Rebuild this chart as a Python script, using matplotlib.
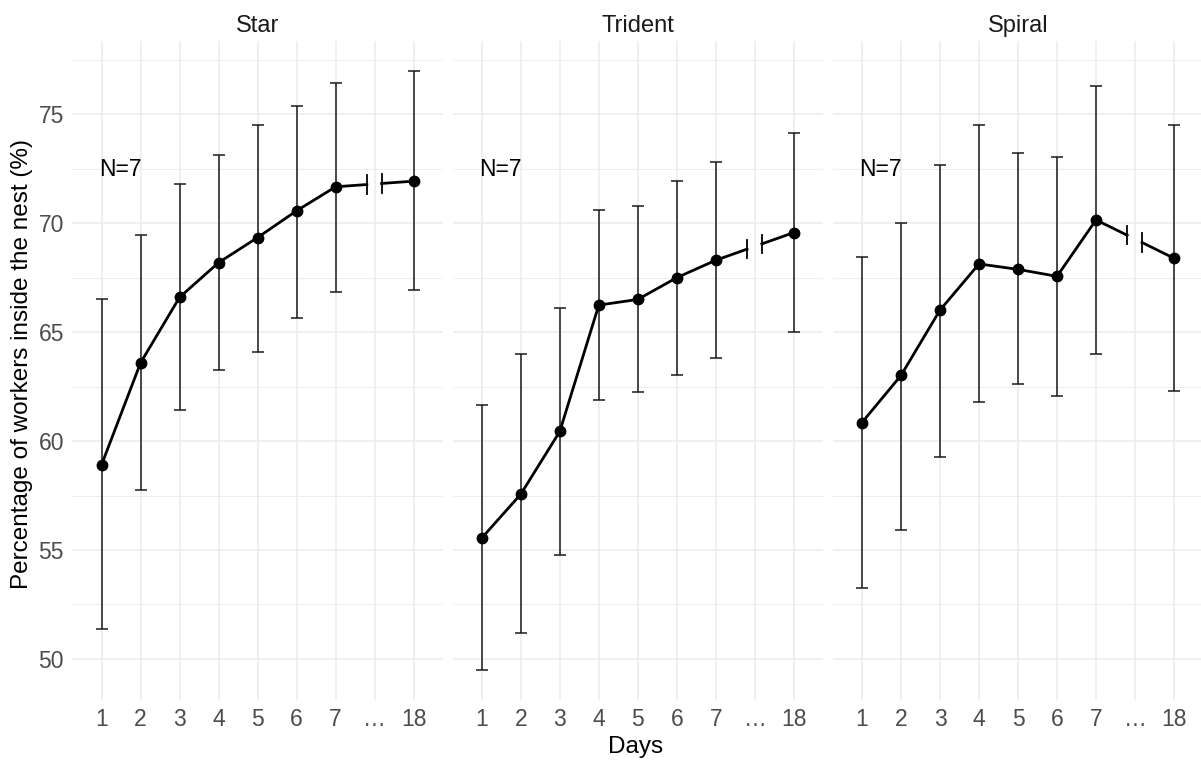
import numpy as np
import matplotlib.pyplot as plt

plt.rcParams['font.family'] = ['Liberation Sans', 'DejaVu Sans']

# x axis: days 1..7, a gap, then day 18
positions = [1, 2, 3, 4, 5, 6, 7, 9]
tick_pos = [1, 2, 3, 4, 5, 6, 7, 8, 9]
tick_labels = ['1', '2', '3', '4', '5', '6', '7', '…', '18']

panels = ['Star', 'Trident', 'Spiral']

star_mean = [58.91, 63.59, 66.60, 68.19, 69.34, 70.57, 71.67, 71.93]
star_lo = [51.37, 57.76, 61.44, 63.27, 64.11, 65.66, 66.84, 66.95]
star_hi = [66.50, 69.46, 71.78, 73.13, 74.49, 75.38, 76.44, 77.00]

trident_mean = [55.55, 57.56, 60.44, 66.24, 66.50, 67.50, 68.30, 69.57]
trident_lo = [49.49, 51.17, 54.77, 61.89, 62.27, 63.04, 63.82, 65.00]
trident_hi = [61.64, 63.99, 66.10, 70.61, 70.78, 71.95, 72.79, 74.13]

spiral_mean = [60.85, 63.01, 66.01, 68.13, 67.88, 67.56, 70.15, 68.39]
spiral_lo = [53.24, 55.93, 59.28, 61.79, 62.62, 62.05, 63.99, 62.28]
spiral_hi = [68.43, 70.00, 72.65, 74.49, 73.23, 73.06, 76.29, 74.49]

means = [star_mean, trident_mean, spiral_mean]
lows = [star_lo, trident_lo, spiral_lo]
highs = [star_hi, trident_hi, spiral_hi]

n_label = 'N=7'

# y range as ggplot: 5% expansion
allv = np.concatenate([np.array(lows).ravel(), np.array(highs).ravel()])
rng = allv.max() - allv.min()
ylim = (allv.min() - 0.05 * rng, allv.max() + 0.05 * rng)

fig = plt.figure(figsize=(12.01, 7.61), dpi=100)
W, H = 1201, 761
left0 = 72.3
pw = 370.6
gap = 9.6
top = 40.7
bottom = 700

grid_col = '#ebebeb'
break_a, break_b = 7.8, 8.18

for i in range(3):
    x0 = left0 + i * (pw + gap)
    ax = fig.add_axes([x0 / W, 1 - bottom / H, pw / W, (bottom - top) / H])
    m = np.array(means[i])
    lo = np.array(lows[i])
    hi = np.array(highs[i])
    pos = np.array(positions)

    ax.set_xlim(0.25, 9.75)
    ax.set_ylim(*ylim)
    for s in ax.spines.values():
        s.set_visible(False)

    # grid
    for yv in np.arange(50, 76, 5):
        ax.axhline(yv, color=grid_col, lw=1.1, zorder=0)
    for yv in np.arange(52.5, 78, 5):
        ax.axhline(yv, color=grid_col, lw=0.6, zorder=0)
    for xv in tick_pos:
        ax.axvline(xv, color=grid_col, lw=1.1, zorder=0)

    # error bars
    ax.errorbar(pos, m, yerr=[m - lo, hi - m], fmt='none', ecolor='#1a1a1a',
                elinewidth=1.1, capsize=4.2, capthick=1.1, zorder=2)

    # line for days 1..7
    ax.plot(pos[:7], m[:7], color='black', lw=2.0, zorder=3,
            solid_capstyle='round', solid_joinstyle='round')
    # broken segment 7 -> 18
    ya = np.interp(break_a, pos[6:], m[6:])
    yb = np.interp(break_b, pos[6:], m[6:])
    ax.plot([pos[6], break_a], [m[6], ya], color='black', lw=2.0, zorder=3)
    ax.plot([break_b, pos[7]], [yb, m[7]], color='black', lw=2.0, zorder=3)
    ax.plot([break_a, break_a], [ya - 0.42, ya + 0.42], color='black', lw=1.3, zorder=3)
    ax.plot([break_b, break_b], [yb - 0.42, yb + 0.42], color='black', lw=1.3, zorder=3)

    ax.plot(pos, m, 'o', color='black', ms=7.5, zorder=4)

    ax.text(1.47, 72.47, n_label, fontsize=16.5, ha='center', va='center', color='black')

    ax.set_xticks(tick_pos)
    ax.set_xticklabels(tick_labels)
    ax.set_yticks([50, 55, 60, 65, 70, 75])
    ax.tick_params(length=0, labelsize=16.5, labelcolor='#4d4d4d', pad=6)
    if i > 0:
        ax.set_yticklabels([])
    ax.set_title(panels[i], fontsize=17, color='#1a1a1a', pad=6)

fig.text(636 / W, 1 - 747 / H, 'Days', ha='center', va='center', fontsize=17.5)
fig.text(22 / W, 1 - 364 / H, 'Percentage of workers inside the nest (%)',
         ha='center', va='center', rotation=90, fontsize=17.5)

plt.savefig('out.png', dpi=100)
